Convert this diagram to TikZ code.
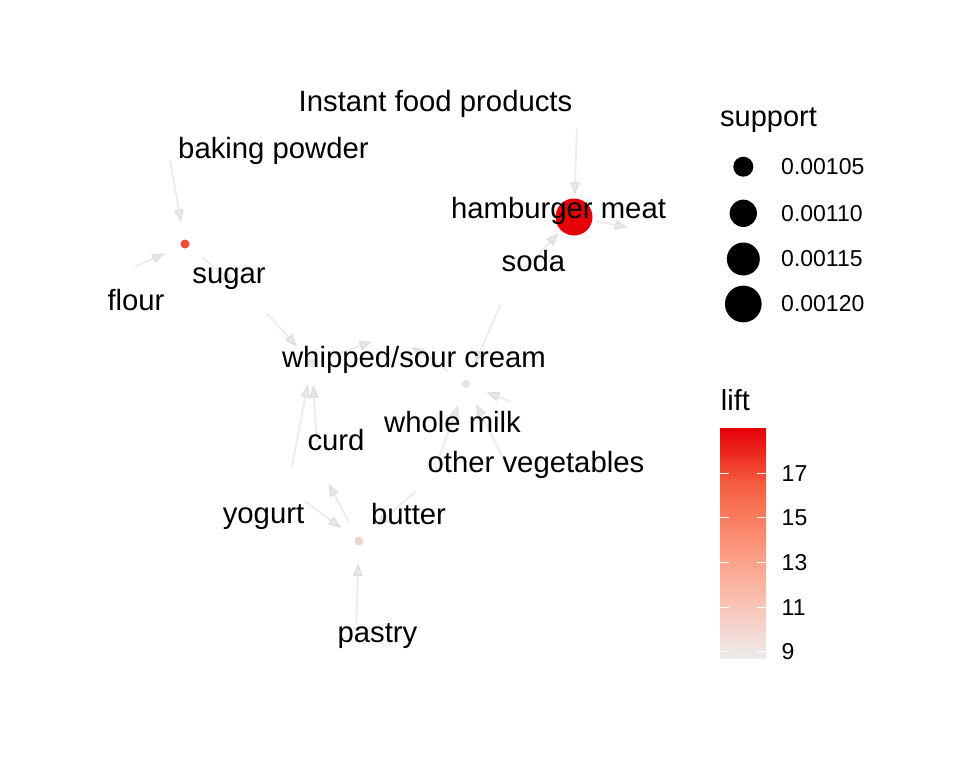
\documentclass[tikz,border=0pt]{standalone}
\usepackage{fontspec}
\setmainfont{Liberation Sans}
\usetikzlibrary{arrows.meta}
\definecolor{edgec}{RGB}{236,236,236}
\definecolor{arrc}{RGB}{224,224,224}
\definecolor{arrf}{RGB}{234,234,234}
\definecolor{lcA}{RGB}{236,235,235}
\definecolor{lcB}{RGB}{250,193,178}
\definecolor{lcC}{RGB}{252,147,120}
\definecolor{lcD}{RGB}{246,96,65}
\definecolor{lcE}{RGB}{230,0,8}
\definecolor{rOne}{RGB}{243,75,56}
\definecolor{rTwo}{RGB}{230,0,6}
\definecolor{rThree}{RGB}{228,228,228}
\definecolor{rFour}{RGB}{237,214,208}
\definecolor{rFive}{RGB}{230,230,230}
\pgfdeclarelayer{edges}
\pgfsetlayers{edges,main}
\begin{document}
\begin{tikzpicture}[x=1pt,y=-1pt,
  edge/.style={draw=edgec, line width=1.8pt, shorten <=22pt, shorten >=22pt,
    -{Triangle[length=13pt,width=9.5pt,color=arrc,fill=arrf]}},
  lbl/.style={anchor=base, inner sep=0pt, font=\fontsize{29.3}{34}\selectfont},
  rulenode/.style={circle, inner sep=0pt, draw=none},
  legtitle/.style={anchor=base west, inner sep=0pt, font=\fontsize{29}{34}\selectfont},
  legtext/.style={anchor=west, inner sep=0pt, font=\fontsize{23}{27}\selectfont},
  sdot/.style={circle, fill=black, inner sep=0pt},
  tickw/.style={draw=white, line width=1pt}]
\useasboundingbox (0,0) rectangle (960,768);

% rule vertices
\node[rulenode, fill=rOne, minimum size=9pt] (r1) at (185,244) {};
\node[rulenode, fill=rTwo, minimum size=37pt] (r2) at (574,217) {};
\node[rulenode, fill=rThree, minimum size=8.5pt] (r3) at (466,384) {};
\node[rulenode, fill=rFour, minimum size=9pt] (r4) at (359,541) {};
\node[rulenode, fill=rFive, minimum size=8.5pt] (r5) at (312,363) {};

% item vertices (invisible)
\coordinate (vbp) at (166,138);
\coordinate (vflour) at (115,276);
\coordinate (vsugar) at (252,297);
\coordinate (vyogurt) at (287.5,488.5);
\coordinate (vcurd) at (318,464);
\coordinate (vwsc) at (393,334);
\coordinate (vinstant) at (577.5,106);
\coordinate (vsoda) at (509,285);
\coordinate (vham) at (649.5,231.3);
\coordinate (vbutter) at (432,477);
\coordinate (vov) at (532,410);
\coordinate (vwm) at (517,486);
\coordinate (vpastry) at (355.5,645);

\begin{pgfonlayer}{edges}
\fill[white] (0,0) rectangle (960,768);
\draw[edge] (vbp) -- (r1.center);
\draw[edge] (vflour) -- (r1.center);
\draw[edge] (r1.center) -- (vsugar);
\draw[edge] (vsugar) -- (r5.center);
\draw[edge] (vyogurt) -- (r5.center);
\draw[edge] (vcurd) -- (r5.center);
\draw[edge] (r5.center) -- (vwsc);
\draw[edge] (vinstant) -- (r2.center);
\draw[edge] (vsoda) -- (r2.center);
\draw[edge] (r2.center) -- (vham);
\draw[edge] (vsoda) -- (r3.center);
\draw[edge] (vbutter) -- (r3.center);
\draw[edge] (vov) -- (r3.center);
\draw[edge] (vwm) -- (r3.center);
\draw[edge] (r3.center) -- (vwsc);
\draw[edge] (vyogurt) -- (r4.center);
\draw[edge] (vpastry) -- (r4.center);
\draw[edge] (vbutter) -- (r4.center);
\draw[edge] (r4.center) -- (vcurd);
\end{pgfonlayer}

% item labels
\node[lbl] (linstant) at (435.5,111) {Instant food products};
\node[lbl] (lbp) at (273.5,158) {baking powder};
\node[lbl] (lham) at (558.5,218) {hamburger meat};
\node[lbl] (lsoda) at (533.5,271) {soda};
\node[lbl] (lsugar) at (229,283) {sugar};
\node[lbl] (lflour) at (136,310) {flour};
\node[lbl] (lwsc) at (414,367) {whipped/sour cream};
\node[lbl] (lwm) at (452.5,432) {whole milk};
\node[lbl] (lcurd) at (336,450) {curd};
\node[lbl] (lov) at (536,472.5) {other vegetables};
\node[lbl] (lyogurt) at (263.5,523) {yogurt};
\node[lbl] (lbutter) at (408.5,524) {butter};
\node[lbl] (lpastry) at (377.5,642) {pastry};

% support legend
\node[legtitle] (supt) at (720,126.7) {support};
\node[sdot, minimum size=20pt] (sa) at (743.3,166.7) {};
\node[sdot, minimum size=27.3pt] (sb) at (743.3,213.3) {};
\node[sdot, minimum size=33pt] (sc) at (743.3,259) {};
\node[sdot, minimum size=36.7pt] (sd) at (743.3,304) {};
\node[legtext] (sal) at (781,166.7) {0.00105};
\node[legtext] (sbl) at (781,213.3) {0.00110};
\node[legtext] (scl) at (781,259) {0.00115};
\node[legtext] (sdl) at (781,304) {0.00120};

% lift legend
\node[legtitle] (liftt) at (720.7,410.7) {lift};
\shade[bottom color=lcA, top color=lcB] (720,658.3) rectangle (766,600.5);
\shade[bottom color=lcB, top color=lcC] (720,601.0) rectangle (766,543.0);
\shade[bottom color=lcC, top color=lcD] (720,543.5) rectangle (766,485.5);
\shade[bottom color=lcD, top color=lcE] (720,486.0) rectangle (766,428.3);
\foreach \ty/\tv in {473.3/17, 517.3/15, 562.3/13, 607.3/11, 651.7/9} {
  \draw[tickw] (720,\ty) -- (729,\ty);
  \draw[tickw] (757,\ty) -- (766,\ty);
  \node[legtext] (tk\tv) at (781.5,\ty) {\tv};
}
\end{tikzpicture}
\end{document}
